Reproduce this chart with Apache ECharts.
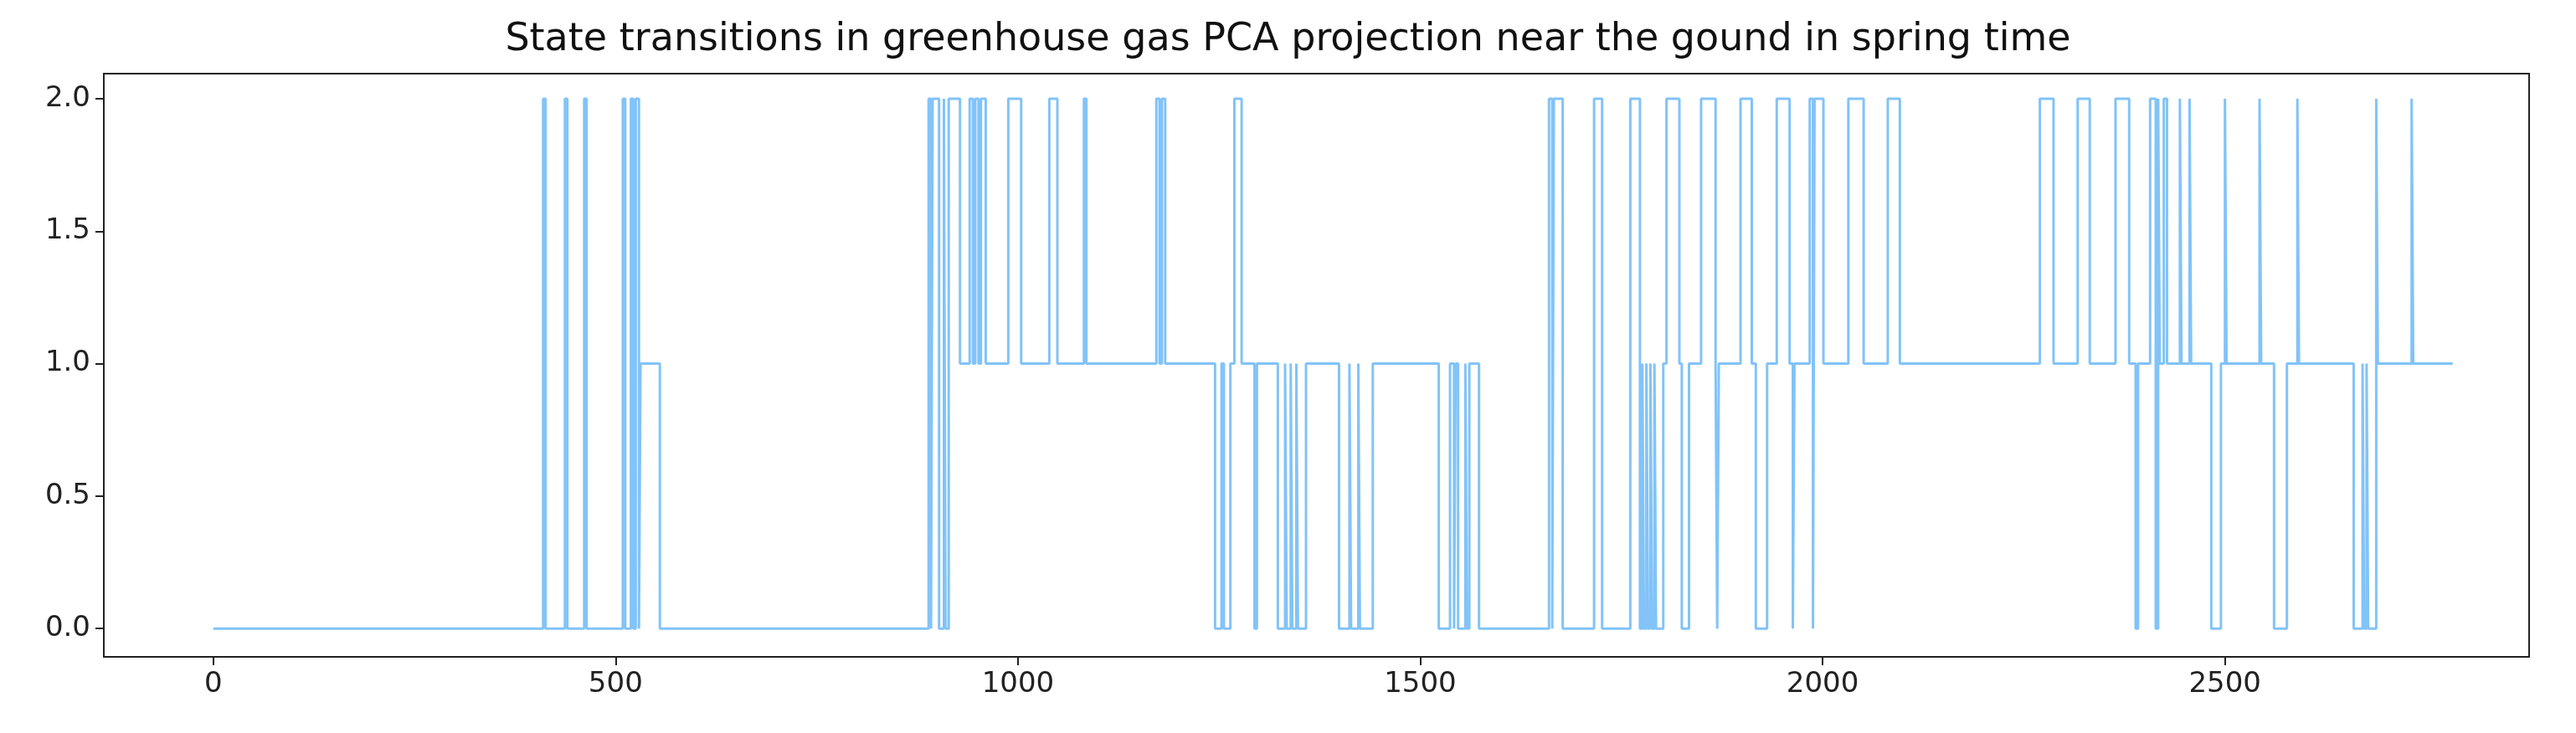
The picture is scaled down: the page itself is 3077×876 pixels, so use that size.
<!DOCTYPE html>
<html>
<head>
<meta charset="utf-8">
<script src="https://cdn.jsdelivr.net/npm/echarts@6/dist/echarts.min.js"></script>
<style>
  html, body { margin: 0; padding: 0; background: #fff; }
  #chart { width: 3077px; height: 876px; }
</style>
</head>
<body>
<div id="chart"></div>
<script>
// state change points: from changeX[i] the state is changeState[i]
var changeX = [
  0, 410, 413, 437, 440, 461, 464, 509, 512, 519, 522, 525, 529, 531, 555,
  889, 892, 894, 902, 908, 910, 914, 928,
  940, 944, 947, 951, 954, 960, 988, 1004, 1039, 1049, 1082, 1085, 1172, 1176, 1179, 1183, 1186,
  1245, 1253, 1256, 1264, 1269, 1278, 1294, 1297,
  1323, 1332, 1334, 1339, 1341, 1346, 1348, 1358,
  1399, 1412, 1414, 1423, 1425, 1441,
  1523, 1537, 1542, 1544, 1547, 1556, 1558, 1561, 1573,
  1660, 1664, 1666, 1677, 1716, 1726, 1761, 1773,
  1776, 1778, 1781, 1783, 1786, 1788, 1791, 1793, 1802, 1806, 1822, 1825, 1834,
  1849, 1867, 1869, 1871, 1898, 1912, 1917, 1931, 1943, 1959, 1963, 1965,
  1984, 1988, 1990, 2001, 2032, 2051, 2081, 2096, 2270, 2287, 2317, 2332, 2364, 2381,
  2389, 2392, 2407, 2414, 2417, 2419, 2424, 2428,
  2444, 2446, 2456, 2458, 2483, 2495, 2500, 2502, 2543, 2545, 2561, 2577, 2590, 2592,
  2660, 2671, 2673, 2676, 2678, 2688, 2690, 2732, 2734, 2783
];
var changeState = [
  0, 2, 0, 2, 0, 2, 0, 2, 0, 2, 0, 2, 0, 1, 0,
  2, 0, 2, 0, 2, 0, 2, 1,
  2, 1, 2, 1, 2, 1, 2, 1, 2, 1, 2, 1, 2, 1, 2, 1, 1,
  0, 1, 0, 1, 2, 1, 0, 1,
  0, 1, 0, 1, 0, 1, 0, 1,
  0, 1, 0, 1, 0, 1,
  0, 1, 0, 1, 0, 1, 0, 1, 0,
  2, 0, 2, 0, 2, 0, 2, 0,
  1, 0, 1, 0, 1, 0, 1, 0, 1, 2, 1, 0, 1,
  2, 1, 0, 1, 2, 1, 0, 1, 2, 1, 0, 1,
  2, 0, 2, 1, 2, 1, 2, 1, 2, 1, 2, 1, 2, 1,
  0, 1, 2, 0, 2, 1, 2, 1,
  2, 1, 2, 1, 0, 1, 2, 1, 2, 1, 0, 1, 2, 1,
  0, 1, 0, 1, 0, 2, 1, 2, 1, 1
];
var xTicks = [0, 500, 1000, 1500, 2000, 2500];
var yTicks = [0, 0.5, 1, 1.5, 2];

var points = changeX.map(function (x, i) { return [x, changeState[i]]; });

var myChart = echarts.init(document.getElementById('chart'));
var option = {
  animation: false,
  backgroundColor: '#fff',
  title: {
    text: 'State transitions in greenhouse gas PCA projection near the gound in spring time',
    left: 'center',
    top: 20,
    textStyle: { fontFamily: 'DejaVu Sans', fontSize: 46, fontWeight: 'normal', color: '#111' }
  },
  grid: {
    left: 124, right: 56, top: 88, bottom: 91,
    show: true, borderColor: '#222', borderWidth: 2
  },
  xAxis: {
    type: 'value',
    min: -136, max: 2878,
    splitLine: { show: false },
    axisLine: { show: false, onZero: false },
    axisTick: { show: true, length: 10, lineStyle: { color: '#222', width: 2 }, customValues: xTicks },
    axisLabel: {
      customValues: xTicks, fontFamily: 'DejaVu Sans', fontSize: 34, color: '#222', margin: 16,
      formatter: function (v) { return String(v); }
    }
  },
  yAxis: {
    type: 'value',
    min: -0.107, max: 2.095,
    splitLine: { show: false },
    axisLine: { show: false, onZero: false },
    axisTick: { show: true, length: 10, lineStyle: { color: '#222', width: 2 }, customValues: yTicks },
    axisLabel: {
      customValues: yTicks, fontFamily: 'DejaVu Sans', fontSize: 34, color: '#222', margin: 16,
      formatter: function (v) { return v.toFixed(1); }
    }
  },
  series: [{
    type: 'line',
    step: 'end',
    data: points,
    symbol: 'none',
    lineStyle: { color: '#74bdf7', width: 3, opacity: 0.9 }
  }]
};
myChart.setOption(option);
</script>
</body>
</html>
